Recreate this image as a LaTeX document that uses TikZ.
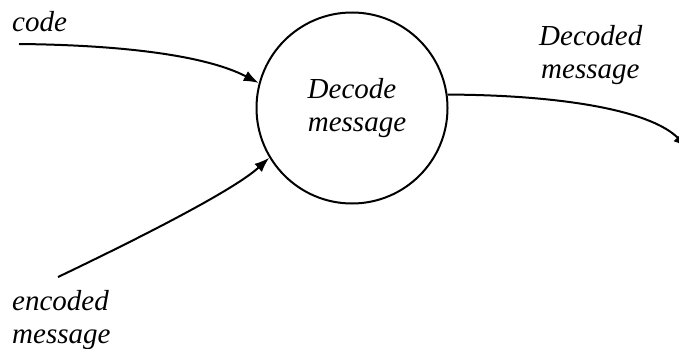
\documentclass[tikz,border=0pt]{standalone}
\usepackage{fontspec}
\setmainfont{Liberation Serif}
\usetikzlibrary{arrows.meta}
\begin{document}
\begin{tikzpicture}[x=1pt,y=-1pt,
  flow/.style={line width=2pt,-{Latex[length=15pt,width=11pt]}},
  proc/.style={draw,circle,line width=2pt,minimum size=191pt,inner sep=0pt,
    align=center,font=\itshape\fontsize{29}{33}\selectfont},
  lbl/.style={inner sep=0pt,align=left,font=\itshape\fontsize{29}{33}\selectfont}]
  \clip (0,0) rectangle (679,348);
  % process bubble
  \node[proc] (p) at (352,108) {Decode\\\hspace*{10pt}message};
  % labels
  \node[lbl,anchor=base west] (lcode) at (12,31) {code};
  \node[lbl,anchor=base west] (lenc) at (12,310) {encoded};
  \node[lbl,anchor=base west] (lenc2) at (12,343) {message};
  \node[lbl,anchor=base west] (ldec) at (539,45) {Decoded};
  \node[lbl,anchor=base west] (ldec2) at (541,78) {message};
  % free ends of the flows
  \coordinate (codein) at (19,44);
  \coordinate (encin) at (58,277);
  \coordinate (decout) at (688,148);
  % data flows
  \draw[flow] (codein) .. controls (120,45) and (205,55) .. (p.165);
  \draw[flow] (encin) .. controls (125,245) and (232,192) .. (p.211);
  \draw[flow] (p.8) .. controls (560,95) and (650,110) .. (decout);
\end{tikzpicture}
\end{document}
